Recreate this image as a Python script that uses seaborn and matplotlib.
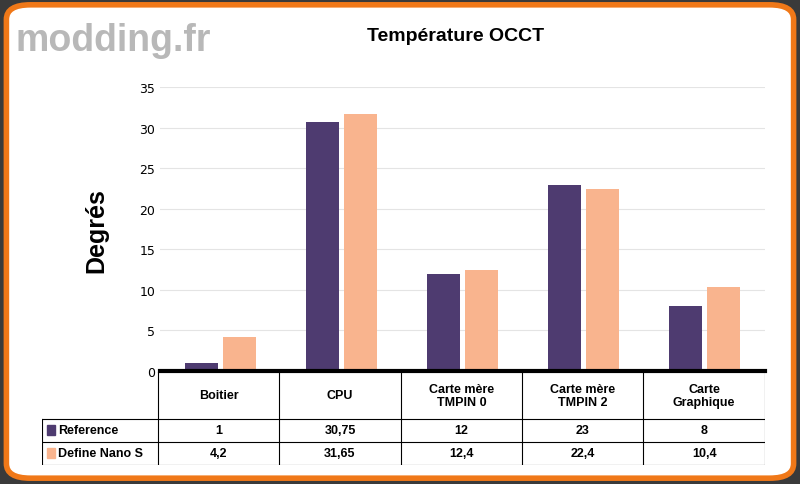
import matplotlib
matplotlib.use("Agg")
import matplotlib.pyplot as plt
import seaborn as sns
import pandas as pd
from matplotlib.patches import FancyBboxPatch, Rectangle

categories = ["Boitier", "CPU", "Carte mère\nTMPIN 0", "Carte mère\nTMPIN 2", "Carte\nGraphique"]
series = ["Reference", "Define Nano S"]
reference = [1, 30.75, 12, 23, 8]
define_nano = [4.2, 31.65, 12.4, 22.4, 10.4]
ref_labels = ["1", "30,75", "12", "23", "8"]
nano_labels = ["4,2", "31,65", "12,4", "22,4", "10,4"]
colors = ["#4E3B70", "#F9B48E"]

df = pd.DataFrame({
    "cat": categories * 2,
    "serie": [series[0]] * 5 + [series[1]] * 5,
    "val": reference + define_nano,
})

FONT = "Liberation Sans"
fig = plt.figure(figsize=(8, 4.85), dpi=100)
fig.patch.set_facecolor("#3a3a3a")
fig.patches.append(FancyBboxPatch((0.008, 0.012), 0.984, 0.976, boxstyle="round,pad=0,rounding_size=0.03",
                                  transform=fig.transFigure, facecolor="white", edgecolor="#F07818",
                                  linewidth=4, zorder=-10))

fig.text(0.02, 0.895, "modding.fr", fontsize=27, fontweight="bold", color="#b8b8b8", zorder=-5, family=FONT)
fig.text(0.57, 0.915, "Température OCCT", ha="center", fontsize=14, fontweight="bold", family=FONT)

ax = fig.add_axes([0.2, 0.233, 0.756, 0.585])
sns.barplot(data=df, x="cat", y="val", hue="serie", palette=colors, ax=ax, width=0.62, gap=0.12,
            saturation=1, edgecolor="none", legend=False)
ax.set_ylim(0, 35)
ax.set_yticks(range(0, 36, 5))
ax.set_xlim(-0.5, 4.5)
ax.yaxis.grid(True, color="#e4e4e4", linewidth=0.8)
ax.set_axisbelow(True)
ax.set_xticks([])
ax.set_xlabel("")
ax.set_ylabel("Degrés", fontsize=18, fontweight="bold", labelpad=22, family=FONT)
ax.tick_params(axis="y", labelsize=9, length=0)
for s in ["top", "right", "left"]:
    ax.spines[s].set_visible(False)
ax.spines["bottom"].set_color("black")
ax.spines["bottom"].set_linewidth(3)
ax.set_facecolor("none")

# table
tax = fig.add_axes([0.0525, 0.04, 0.9035, 0.19])
W = 5.955
x0 = 0.955
tax.set_xlim(0, W)
tax.set_ylim(0, 4)
tax.axis("off")
for i in range(6):
    tax.plot([x0 + i, x0 + i], [0, 4], color="black", lw=0.8)
tax.plot([0, 0], [0, 2], color="black", lw=0.8)
for y in [0, 1, 2]:
    tax.plot([0, W], [y, y], color="black", lw=0.8)
for i, c in enumerate(categories):
    tax.text(x0 + i + 0.5, 3, c, ha="center", va="center", fontsize=9, fontweight="bold", family=FONT)
rows = [ref_labels, nano_labels]
for r, (name, labs) in enumerate(zip(series, rows)):
    yc = 1.5 - r
    tax.add_patch(Rectangle((0.04, yc - 0.2), 0.065, 0.4, color=colors[r]))
    tax.text(0.13, yc, name, va="center", fontsize=9, fontweight="bold", family=FONT)
    for i, l in enumerate(labs):
        tax.text(x0 + i + 0.5, yc, l, ha="center", va="center", fontsize=9, fontweight="bold", family=FONT)

fig.savefig("out.png", dpi=100, facecolor=fig.get_facecolor())
